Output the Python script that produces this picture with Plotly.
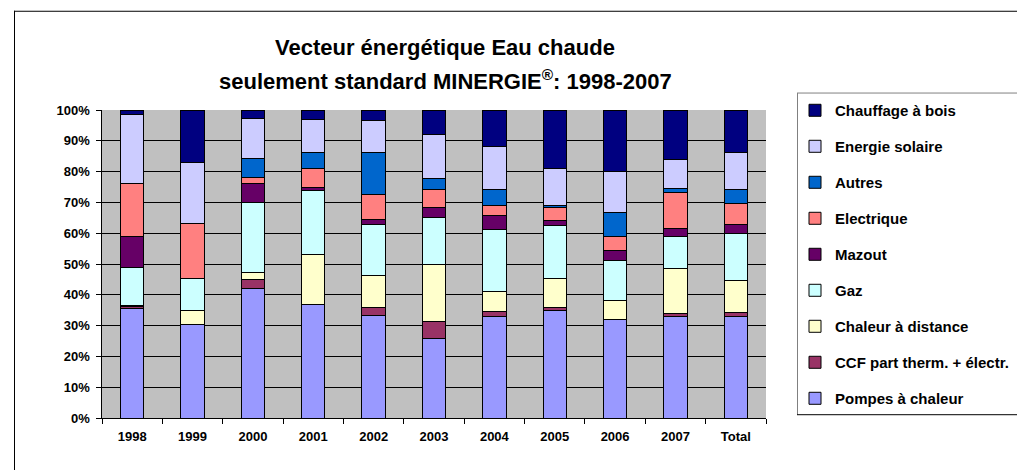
import plotly.graph_objects as go

categories = ["1998", "1999", "2000", "2001", "2002", "2003", "2004", "2005", "2006", "2007", "Total"]

pompes     = [35.4, 30.5, 42.0, 37.0, 33.4, 25.9, 32.8, 34.8, 31.9, 32.8, 32.9]
ccf        = [0.7, 0.0, 3.1, 0.0, 2.6, 5.3, 1.7, 1.1, 0.0, 1.2, 1.5]
chaleur    = [0.3, 4.5, 2.0, 16.0, 10.3, 18.5, 6.5, 9.5, 6.3, 14.5, 10.4]
gaz        = [12.5, 10.4, 22.8, 20.8, 16.6, 15.3, 20.2, 17.2, 12.8, 10.4, 15.1]
mazout     = [9.9, 0.0, 6.4, 1.0, 1.6, 3.3, 4.4, 1.6, 3.4, 2.5, 2.9]
electrique = [17.4, 17.9, 1.7, 6.1, 8.1, 5.8, 3.4, 4.3, 4.5, 11.8, 6.8]
autres     = [0.0, 0.0, 6.4, 5.2, 13.7, 3.6, 5.1, 0.5, 7.7, 1.2, 4.7]
solaire    = [22.3, 19.7, 12.9, 10.8, 10.2, 14.4, 13.9, 12.0, 13.4, 9.5, 11.9]
bois       = [1.5, 17.0, 2.7, 3.1, 3.5, 7.9, 12.0, 19.0, 20.0, 16.1, 13.8]

series_names = ["Pompes à chaleur", "CCF part therm. + électr.", "Chaleur à distance", "Gaz",
                "Mazout", "Electrique", "Autres", "Energie solaire", "Chauffage à bois"]
series_values = [pompes, ccf, chaleur, gaz, mazout, electrique, autres, solaire, bois]
series_colors = ["#9999FF", "#993366", "#FFFFCC", "#CCFFFF", "#660066", "#FF8080",
                 "#0066CC", "#CCCCFF", "#000080"]

y_tickvals = [0, 10, 20, 30, 40, 50, 60, 70, 80, 90, 100]
y_ticktext = [f"{v}%" for v in y_tickvals]

title_line1 = "Vecteur énergétique Eau chaude"
title_line2 = "seulement standard MINERGIE<sup>®</sup>: 1998-2007"

FONT = "Arial, 'Liberation Sans', sans-serif"

# the page body margin is removed by post_script, so figure pixels == page pixels
FIG_W, FIG_H = 1017, 470
L, R, T, B = 102, 766, 109.5, 418.3
W, H = R - L, B - T


def px(x):
    return (x - L) / W


def py(y):
    return (B - y) / H


fig = go.Figure()
n = len(series_names)
for i, (name, vals, col) in enumerate(zip(series_names, series_values, series_colors)):
    fig.add_trace(go.Bar(
        x=categories, y=vals, name=name, legendgroup=name, legendrank=n - i,
        marker=dict(color=col, line=dict(color="black", width=1)),
    ))


def hline(x0, x1, y, color):
    return dict(type="line", xref="paper", yref="paper", x0=px(x0), x1=px(x1), y0=py(y), y1=py(y),
                line=dict(color=color, width=1))


def vline(x, y0, y1, color):
    return dict(type="line", xref="paper", yref="paper", x0=px(x), x1=px(x), y0=py(y0), y1=py(y1),
                line=dict(color=color, width=1))


shapes = [
    # outer chart border (right and bottom edges lie outside the view)
    hline(14, 1030, 10.5, "black"),
    vline(14.5, 10, 480, "black"),
    # legend box
    hline(797, 1030, 92.5, "#808080"),
    vline(797.5, 92.5, 415, "#808080"),
    hline(797, 1030, 415, "black"),
]

annotations = [
    dict(text=f"<b>{title_line1}</b>", xref="paper", yref="paper", x=px(445), y=py(46.5),
         xanchor="center", yanchor="middle", showarrow=False,
         font=dict(family=FONT, size=22, color="black")),
    dict(text=f"<b>{title_line2}</b>", xref="paper", yref="paper", x=px(445), y=py(79),
         xanchor="center", yanchor="middle", showarrow=False,
         font=dict(family=FONT, size=22, color="black")),
]

fig.update_layout(
    width=FIG_W, height=FIG_H,
    margin=dict(l=L, r=FIG_W - R, t=T, b=FIG_H - B, pad=0, autoexpand=False),
    paper_bgcolor="white", plot_bgcolor="#C0C0C0",
    barmode="stack", bargap=0.614,
    font=dict(family=FONT, size=13, color="black"),
    xaxis=dict(
        type="category", tickson="boundaries", ticks="outside", ticklen=5, tickcolor="black",
        showgrid=False, showline=True, linecolor="black", linewidth=1,
        tickfont=dict(family=FONT, size=13, color="black"), tickprefix="<b>", ticksuffix="</b>",
        ticklabelstandoff=6,
        fixedrange=True,
    ),
    yaxis=dict(
        range=[0, 100], tickvals=y_tickvals,
        ticktext=[f"<b>{t}</b>\u00a0" for t in y_ticktext],
        ticks="outside", ticklen=5, tickcolor="black",
        showgrid=True, gridcolor="black", gridwidth=1,
        showline=True, linecolor="black", linewidth=1, zeroline=False,
        tickfont=dict(family=FONT, size=13, color="black"),
        fixedrange=True,
    ),
    legend=dict(
        x=px(795), y=py(93.5), xanchor="left", yanchor="top",
        traceorder="grouped", tracegroupgap=13.5,
        font=dict(family=FONT, size=15, color="black", weight="bold"),
        bgcolor="rgba(0,0,0,0)", itemwidth=30, maxheight=440,
    ),
    shapes=shapes,
    annotations=annotations,
)

fig.write_html(
    "out.html",
    config={"displayModeBar": False},
    post_script="document.body.style.margin='0';document.body.style.overflow='hidden';",
)
